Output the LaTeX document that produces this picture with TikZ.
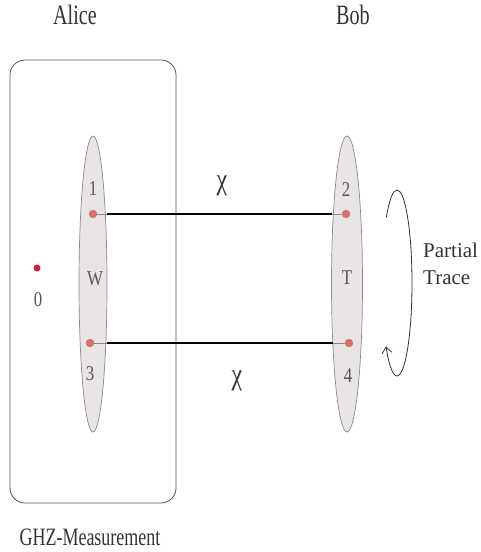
\documentclass[tikz,border=0pt]{standalone}
\usepackage{fontspec}
\setmainfont{Liberation Serif}
\newfontfamily\cnd{Liberation Serif}[FakeStretch=0.72]
\newfontfamily\cndb{Liberation Serif}[FakeStretch=0.8]
\usetikzlibrary{arrows.meta}
\definecolor{txt}{HTML}{333333}
\definecolor{lbl}{HTML}{555555}
\definecolor{ellfill}{HTML}{E9E5E7}
\definecolor{ellline}{HTML}{8A8A8A}
\definecolor{qdot}{HTML}{D9716A}
\definecolor{zdot}{HTML}{D2213A}
\tikzset{
  title/.style={font=\cnd\fontsize{28}{30}\selectfont, text=txt, anchor=base, inner sep=0},
  lab/.style={font=\cndb\fontsize{21}{23}\selectfont, text=lbl, anchor=base, inner sep=0},
  qubit/.style={circle, fill=qdot, draw=ellline, line width=0.3pt, minimum size=8pt, inner sep=0},
  link/.style={line width=1.6pt, black},
  stub/.style={line width=0.7pt, ellline},
  greek/.style={font=\cndb\fontsize{30}{32}\selectfont, text=txt, inner sep=0},
}
\begin{document}
\begin{tikzpicture}[x=1pt,y=-1pt]
\useasboundingbox (0,0) rectangle (480,552);
% Alice box
\draw[line width=0.8pt, draw=lbl, rounded corners=15pt] (10,60) rectangle (176,503);
% ellipses
\filldraw[fill=ellfill, draw=ellline, line width=0.7pt] (93,284) ellipse [x radius=14, y radius=148];
\filldraw[fill=ellfill, draw=ellline, line width=0.7pt] (347,284) ellipse [x radius=15.5, y radius=148];
\coordinate (e1) at (106.5,214);
\coordinate (e3) at (106.5,343);
\coordinate (e2) at (332,214);
\coordinate (e4) at (332.5,343);
% qubits
\node[qubit] (q1) at (93,214) {};
\node[qubit] (q3) at (90,343) {};
\node[qubit] (q2) at (346,214) {};
\node[qubit] (q4) at (349,343) {};
\node[circle, fill=zdot, minimum size=7pt, inner sep=0] (q0) at (37,268) {};
% links
\draw[stub] (q1) -- (e1);
\draw[stub] (q3) -- (e3);
\draw[stub] (q2) -- (e2);
\draw[stub] (q4) -- (e4);
\draw[link] (e1) -- (e2);
\draw[link] (e3) -- (e4);
% labels
\node[lab] (l1) at (93,195.5) {1};
\node[lab] (lW) at (95,285) {W};
\node[lab] (l3) at (90,380) {3};
\node[lab] (l0) at (38,306) {0};
\node[lab] (l2) at (346,196) {2};
\node[lab] (lT) at (347,284) {T};
\node[lab] (l4) at (348,382) {4};
\node[greek] (chi1) at (222,186) {χ};
\node[greek] (chi2) at (237,381) {χ};
% partial trace loop
\coordinate (pc) at (397,283);
\draw[line width=0.8pt, txt, -{Straight Barb[length=6pt,width=10pt]}] (pc) ++(225:15 and 93) arc [start angle=225, end angle=497, x radius=15, y radius=93];
\node[font=\fontsize{21}{27}\selectfont, text=txt, anchor=north west, align=left, inner sep=0] (pt) at (423,243) {Partial\\Trace};
% titles
\node[title] (alice) at (75,24) {Alice};
\node[title] (bob) at (353,24) {Bob};
\node[title, font=\cnd\fontsize{25}{27}\selectfont] (ghz) at (90,545) {GHZ-Measurement};
\end{tikzpicture}
\end{document}
